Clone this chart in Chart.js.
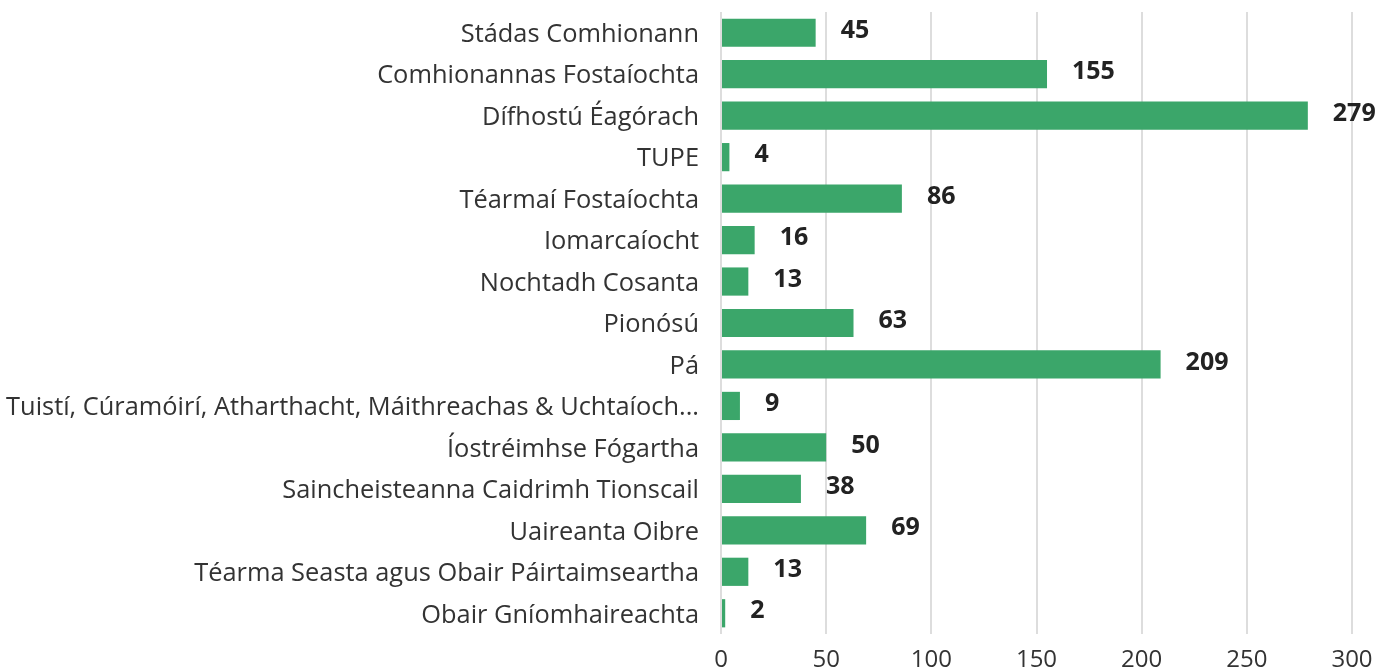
<!DOCTYPE html>
<html>
<head>
<meta charset="utf-8">
<script src="https://cdn.jsdelivr.net/npm/chart.js@4"></script>
<style>
  html, body { margin: 0; padding: 0; background: #fff; }
  #wrap { width: 1391px; height: 670px; }
</style>
</head>
<body>
<div id="wrap"><canvas id="chart"></canvas></div>
<script>
const categories = [
  "Stádas Comhionann",
  "Comhionannas Fostaíochta",
  "Dífhostú Éagórach",
  "TUPE",
  "Téarmaí Fostaíochta",
  "Iomarcaíocht",
  "Nochtadh Cosanta",
  "Pionósú",
  "Pá",
  "Tuistí, Cúramóirí, Atharthacht, Máithreachas & Uchtaíoch...",
  "Íostréimhse Fógartha",
  "Saincheisteanna Caidrimh Tionscail",
  "Uaireanta Oibre",
  "Téarma Seasta agus Obair Páirtaimseartha",
  "Obair Gníomhaireachta"
];
const counts = [45, 155, 279, 4, 86, 16, 13, 63, 209, 9, 50, 38, 69, 13, 2];
const xTicks = [0, 50, 100, 150, 200, 250, 300];

const FONT = "'Open Sans', 'Noto Sans', sans-serif";

// draw the bold value next to each bar
const valueLabels = {
  id: "valueLabels",
  afterDatasetsDraw(chart) {
    const ctx = chart.ctx;
    const meta = chart.getDatasetMeta(0);
    ctx.save();
    ctx.font = "bold 25px " + FONT;
    ctx.fillStyle = "#222";
    ctx.textAlign = "left";
    ctx.textBaseline = "middle";
    meta.data.forEach((bar, i) => {
      ctx.fillText(String(counts[i]), bar.x + 25, bar.y - 2);
    });
    ctx.restore();
  }
};

new Chart(document.getElementById("chart"), {
  type: "bar",
  data: {
    labels: categories,
    datasets: [{
      data: counts,
      backgroundColor: "#3ba66a",
      borderWidth: 0,
      categoryPercentage: 1,
      barPercentage: 0.68
    }]
  },
  options: {
    indexAxis: "y",
    responsive: true,
    maintainAspectRatio: false,
    animation: false,
    layout: { padding: { top: 12, right: 39, left: 0, bottom: 0 } },
    plugins: {
      legend: { display: false },
      tooltip: { enabled: false }
    },
    scales: {
      x: {
        min: 0,
        max: 300,
        afterBuildTicks(axis) {
          axis.ticks = xTicks.map(v => ({ value: v }));
        },
        afterFit(axis) {
          axis.height = 36;
          axis.paddingLeft = 0;
          axis.paddingRight = 0;
        },
        border: { display: false },
        grid: { color: "#dddddd", lineWidth: 2, drawTicks: false },
        ticks: {
          color: "#333",
          font: { family: FONT, size: 24 },
          padding: 12
        }
      },
      y: {
        afterFit(axis) {
          axis.width = 721;
          axis.paddingTop = 0;
          axis.paddingBottom = 0;
        },
        border: { display: false },
        grid: { display: false, drawTicks: false },
        ticks: {
          color: "#333",
          font: { family: FONT, size: 25.4 },
          padding: 22,
          labelOffset: 2,
          autoSkip: false
        }
      }
    }
  },
  plugins: [valueLabels]
});
</script>
</body>
</html>
